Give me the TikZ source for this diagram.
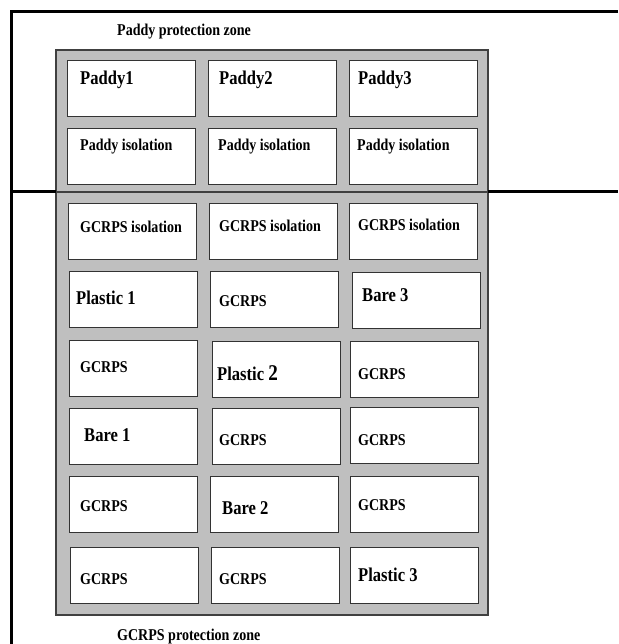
\documentclass[tikz,border=0pt]{standalone}
\usepackage{fontspec}
\setmainfont{Liberation Serif}[FakeStretch=0.85]
\begin{document}
\begin{tikzpicture}
%[x=1pt,y=-1pt,plot/.style={draw,fill=white}]
[x=1pt,y=-1pt, plot/.style={draw=black!80,line width=1.2pt,fill=white,anchor=north west,minimum width=128pt,minimum height=56pt,inner sep=0pt},
lab/.style={font=\bfseries\fontsize{16.5}{18}\selectfont,anchor=base west,inner sep=0pt},
biglab/.style={lab,font=\bfseries\fontsize{19.5}{22}\selectfont}]

\useasboundingbox (0,0) rectangle (618,644);

% the corners of the frame and of the zones
\coordinate (TL) at (11.4,12);
\coordinate (TR) at (618,12);
\coordinate (BL) at (11.4,644);
\coordinate (ML) at (11.4,192);
\coordinate (MR) at (618,192);
\coordinate (G1) at (56,50);
\coordinate (G2) at (488,192);
\coordinate (G3) at (56,192);
\coordinate (G4) at (488,615);


% the zones
\draw[black!75,line width=1.2pt,fill=black!25] (G1) rectangle (G2);
\draw[black!75,line width=1.2pt,fill=black!25] (G3) rectangle (G4);

% the frame
\draw[line width=3pt] (TR) -- (TL) -- (BL);
\draw[line width=3pt] (ML) -- (G3);
\draw[line width=3pt] (G2) -- (MR);


% the plots
\node[plot] (P1) at (67,60) {};
\node[plot] (P2) at (208,60) {};
\node[plot] (P3) at (349,60) {};
\node[plot] (PI1) at (67,128) {};
\node[plot] (PI2) at (208,128) {};
\node[plot] (PI3) at (349,128) {};
\node[plot] (GI1) at (68,203) {};
\node[plot] (GI2) at (209,203) {};
\node[plot] (GI3) at (349,203) {};
\node[plot] (A1) at (69,271) {};
\node[plot] (A2) at (210,271) {};
\node[plot] (A3) at (352,272) {};
\node[plot] (B1) at (69,340) {};
\node[plot] (B2) at (212,341) {};
\node[plot] (B3) at (350,341) {};
\node[plot] (C1) at (69,408) {};
\node[plot] (C2) at (212,408) {};
\node[plot] (C3) at (350,407) {};
\node[plot] (D1) at (69,476) {};
\node[plot] (D2) at (210,476) {};
\node[plot] (D3) at (350,476) {};
\node[plot] (E1) at (70,547) {};
\node[plot] (E2) at (211,547) {};
\node[plot] (E3) at (350,547) {};


% labelling the plots
\node[biglab] (tP1) at (80,85) {Paddy1};
\node[biglab] (tP2) at (219,85) {Paddy2};
\node[biglab] (tP3) at (358,85) {Paddy3};
\node[lab] (tPI1) at (80,150.5) {Paddy isolation};
\node[lab] (tPI2) at (218,150.5) {Paddy isolation};
\node[lab] (tPI3) at (357,150.5) {Paddy isolation};
\node[lab] (tGI1) at (80,233) {GCRPS isolation};
\node[lab] (tGI2) at (219,231) {GCRPS isolation};
\node[lab] (tGI3) at (358,230.5) {GCRPS isolation};
\node[biglab] (tA1) at (76,304) {Plastic 1};
\node[lab] (tA2) at (219,306.5) {GCRPS};
\node[biglab] (tA3) at (362,301) {Bare 3};
\node[lab] (tB1) at (80,372) {GCRPS};
\node[biglab] (tB2) at (217,380) {Plastic {\fontsize{22.5}{24}\selectfont 2}};
\node[lab] (tB3) at (358,379.5) {GCRPS};
\node[biglab] (tC1) at (84,441) {Bare 1};
\node[lab] (tC2) at (219,445.5) {GCRPS};
\node[lab] (tC3) at (358,445.5) {GCRPS};
\node[lab] (tD1) at (80,511.5) {GCRPS};
\node[biglab] (tD2) at (222,514) {Bare 2};
\node[lab] (tD3) at (358,510.5) {GCRPS};
\node[lab] (tE1) at (80,584.5) {GCRPS};
\node[lab] (tE2) at (219,584.5) {GCRPS};
\node[biglab] (tE3) at (358,581) {Plastic 3};

% labelling the zones
\node[lab] (zP) at (117,35.5) {Paddy protection zone};
\node[lab] (zG) at (117,640) {GCRPS protection zone};

%
\end{tikzpicture}
\end{document}
